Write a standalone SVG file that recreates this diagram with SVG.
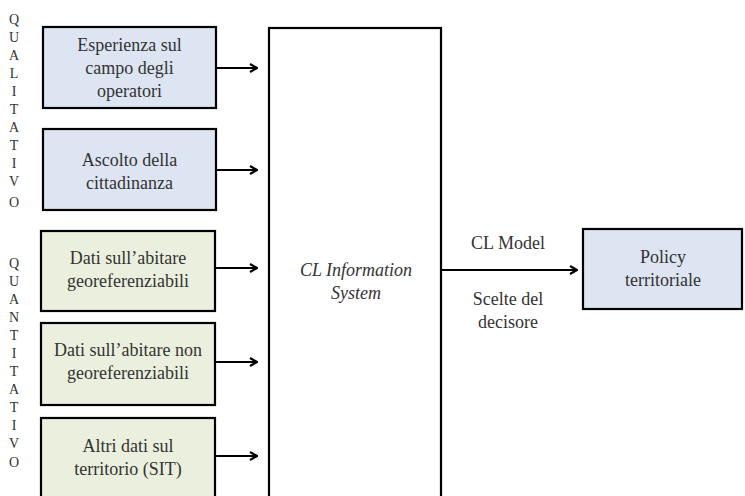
<svg xmlns="http://www.w3.org/2000/svg" width="745" height="496" viewBox="0 0 745 496">
<defs>
<marker id="ah" viewBox="0 0 10 10" refX="9" refY="5" markerWidth="10" markerHeight="10" markerUnits="userSpaceOnUse" orient="auto">
<path d="M2,1 L9,5 L2,9" fill="none" stroke="#000" stroke-width="2.2"/>
</marker>
<style>
.box{stroke:#000;stroke-width:2.2}
.blue{fill:#dce5f1}
.green{fill:#ebf0de}
.t{font-family:"Liberation Serif",serif;font-size:18px;fill:#333;text-anchor:middle}
.v{font-family:"Liberation Serif",serif;font-size:14px;fill:#333;text-anchor:middle}
.c{stroke:#000;stroke-width:2;fill:none;marker-end:url(#ah)}
</style>
</defs>
<rect width="745" height="496" fill="#fff"/>
<g id="label-qualitativo">
<text class="v" x="14" y="24">Q</text><text class="v" x="14" y="42">U</text><text class="v" x="14" y="60">A</text><text class="v" x="14" y="78">L</text><text class="v" x="14" y="96">I</text><text class="v" x="14" y="114">T</text><text class="v" x="14" y="132">A</text><text class="v" x="14" y="150">T</text><text class="v" x="14" y="168">I</text><text class="v" x="14" y="186">V</text><text class="v" x="14" y="207">O</text>
</g>
<g id="label-quantitativo">
<text class="v" x="14" y="268">Q</text><text class="v" x="14" y="286">U</text><text class="v" x="14" y="304">A</text><text class="v" x="14" y="322">N</text><text class="v" x="14" y="340">T</text><text class="v" x="14" y="358">I</text><text class="v" x="14" y="376">T</text><text class="v" x="14" y="394">A</text><text class="v" x="14" y="412">T</text><text class="v" x="14" y="430">I</text><text class="v" x="14" y="448">V</text><text class="v" x="14" y="467">O</text>
</g>
<g id="n1">
<rect class="box blue" x="43" y="27" width="173" height="81"/>
<text class="t" x="129.5" y="51">Esperienza sul</text>
<text class="t" x="129.5" y="74">campo degli</text>
<text class="t" x="129.5" y="97">operatori</text>
</g>
<g id="n2">
<rect class="box blue" x="43" y="129" width="173" height="81"/>
<text class="t" x="129.5" y="166">Ascolto della</text>
<text class="t" x="129.5" y="189">cittadinanza</text>
</g>
<g id="n3">
<rect class="box green" x="41" y="231" width="174" height="80"/>
<text class="t" x="128" y="264">Dati sull’abitare</text>
<text class="t" x="128" y="287">georeferenziabili</text>
</g>
<g id="n4">
<rect class="box green" x="41" y="323" width="174" height="82"/>
<text class="t" x="128" y="356">Dati sull’abitare non</text>
<text class="t" x="128" y="379">georeferenziabili</text>
</g>
<g id="n5">
<rect class="box green" x="41" y="418" width="174" height="90"/>
<text class="t" x="128" y="452">Altri dati sul</text>
<text class="t" x="128" y="475">territorio (SIT)</text>
</g>
<g id="is">
<rect x="269" y="28" width="172" height="480" fill="#fff" stroke="#000" stroke-width="2.2"/>
<text class="t" x="356" y="276" font-style="italic" fill="#555">CL Information</text>
<text class="t" x="356" y="299" font-style="italic" fill="#555">System</text>
</g>
<g id="policy">
<rect class="box blue" x="583" y="229" width="159" height="80"/>
<text class="t" x="663" y="263">Policy</text>
<text class="t" x="663" y="286">territoriale</text>
</g>
<g id="connectors">
<line class="c" x1="217" y1="68" x2="257" y2="68"/>
<line class="c" x1="217" y1="170" x2="257" y2="170"/>
<line class="c" x1="216" y1="268" x2="257" y2="268"/>
<line class="c" x1="216" y1="362" x2="257" y2="362"/>
<line class="c" x1="216" y1="456" x2="257" y2="456"/>
<line class="c" x1="442" y1="270" x2="577" y2="270"/>
<text class="t" x="508" y="249">CL Model</text>
<text class="t" x="508" y="305">Scelte del</text>
<text class="t" x="508" y="328">decisore</text>
</g>
</svg>
